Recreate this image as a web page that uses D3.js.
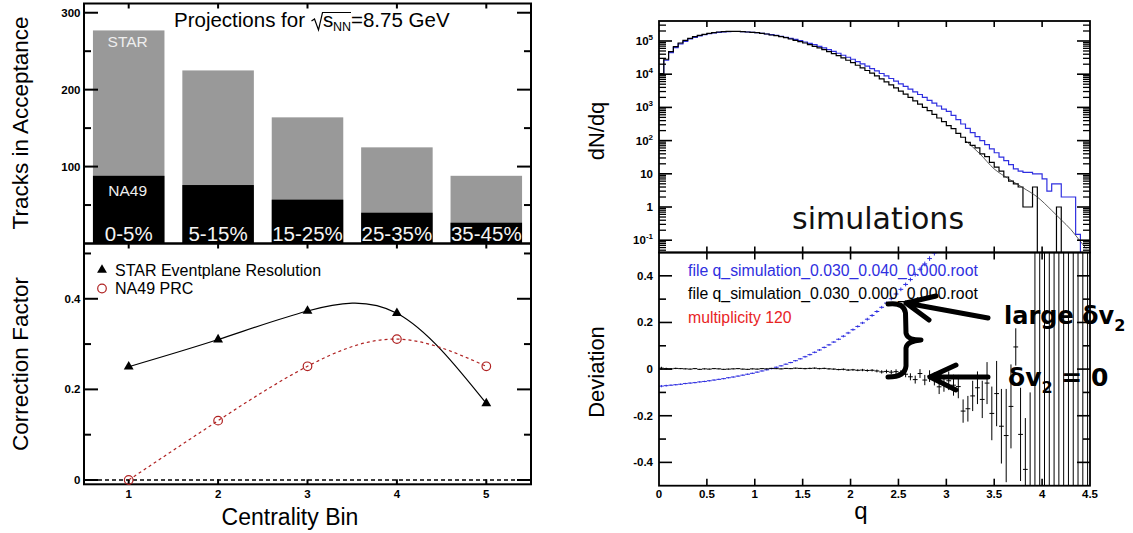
<!DOCTYPE html>
<html>
<head>
<meta charset="utf-8">
<script src="https://cdn.jsdelivr.net/npm/d3@7"></script>
<style>
  body { margin: 0; background: #fff; }
  svg { display: block; font-family: "Liberation Sans", Arial, Helvetica, sans-serif; }
</style>
</head>
<body>
<svg id="chart" width="1133" height="533"></svg>
<script>
// ---------------- Left panel: projections per centrality bin ----------------
const centralityBins   = [1, 2, 3, 4, 5];
const centralityLabels = ["0-5%", "5-15%", "15-25%", "25-35%", "35-45%"];
const starTracks       = [277, 225, 164, 125, 88];
const na49Tracks       = [88, 76, 57, 40, 27];
const starResolution   = [0.250, 0.310, 0.373, 0.368, 0.169];
const na49PRC          = [0.000, 0.131, 0.251, 0.311, 0.251];
const trackMajorTicks  = [100, 200, 300];
const trackMinorTicks  = [50, 150, 250];
const corrMajorTicks   = [0, 0.2, 0.4];
const corrMinorTicks   = [0.1, 0.3, 0.5];

// ---------------- Right panel: q-distribution simulations ----------------
const qBinWidth = 0.05;   // 90 bins from q = 0 to 4.5
// dN/dq, file q_simulation_0.030_0.000_0.000.root (no flow fluctuation)
const countsFlat = [
  10500, 28200, 47900, 67600, 87100, 104700, 120200, 134900, 147900, 158500,
  169800, 177800, 186200, 190500, 195000, 195000, 194000, 190500, 186200, 182000,
  177800, 169800, 162200, 151400, 144500, 134900, 125900, 114800, 104700, 95500,
  87100, 77600, 69200, 61700, 55000, 47900, 41700, 36300, 30900, 26300,
  22400, 18600, 15500, 12900, 10700, 8900, 7240, 5890, 4790, 3890,
  3090, 2510, 2000, 1580, 1260, 1000, 794, 617, 479, 372,
  282, 229, 166, 126, 89, 72, 60, 40, 33, 22,
  16, 12, 8, 6, 5, 4, 1, 1, 4, 0,
  0, 0, 0, 1, 0, 0, 0, 0, 0, 0
];
// dN/dq, file q_simulation_0.030_0.040_0.000.root
const countsFlow = [
  9800, 26300, 44700, 63100, 81300, 97700, 114800, 128800, 141300, 154900,
  166000, 173800, 182000, 186200, 190500, 192800, 192800, 190500, 186200, 182000,
  177800, 169800, 162200, 154900, 147900, 138000, 128800, 120200, 112200, 102300,
  93300, 85100, 77600, 69200, 61700, 55000, 49000, 42700, 37200, 32400,
  28200, 24000, 20400, 17400, 14800, 12600, 10500, 8910, 7410, 6170,
  5130, 4270, 3550, 2950, 2450, 2000, 1620, 1350, 1100, 890,
  760, 575, 427, 316, 234, 174, 132, 100, 76, 56,
  43, 32, 25, 19, 14, 12, 11, 11, 10, 10,
  7, 3, 5, 5, 2, 2, 2, 0.15, 0, 0
];
// expected shape in the tail (thin curve)
const fitQ      = [3.2, 3.35, 3.5, 3.65, 3.8, 3.95, 4.1, 4.2, 4.3, 4.39, 4.46];
const fitCounts = [100, 40, 14, 7.1, 3.8, 2.0, 0.79, 0.41, 0.21, 0.1, 0.056];

// deviation from the reference distribution, per bin
const devFlat = [
  0.004, 0.002, 0.001, 0.003, 0.002, 0.001, 0.000, 0.002, -0.001, 0.001,
  0.000, 0.002, 0.001, -0.001, 0.000, 0.001, 0.002, 0.000, -0.001, 0.001,
  0.000, 0.002, 0.001, 0.003, 0.002, 0.001, 0.003, 0.002, 0.004, 0.003,
  0.002, 0.003, 0.004, 0.002, 0.003, 0.001, 0.000, -0.002, -0.001, -0.004,
  -0.003, -0.005, -0.004, -0.006, -0.005, -0.008, -0.012, -0.010, -0.013, -0.011,
  -0.016, -0.022, -0.033, -0.045, -0.019, -0.047, -0.030, -0.042, -0.076, -0.062,
  -0.050, -0.069, -0.075, -0.180, -0.170, -0.115, -0.080, -0.130, -0.060, -0.190,
  -0.105, -0.245, -0.285, -0.160, 0.095, -0.280, -0.430, -0.700, -1, -1,
  -1, -1, -1, -1, -1, -1, -1, -1, -1, -1
];
const devFlatErr = [
  0.006, 0.004, 0.003, 0.003, 0.002, 0.002, 0.002, 0.002, 0.002, 0.002,
  0.002, 0.002, 0.002, 0.002, 0.002, 0.002, 0.002, 0.002, 0.002, 0.002,
  0.002, 0.002, 0.002, 0.002, 0.002, 0.002, 0.002, 0.002, 0.002, 0.002,
  0.003, 0.003, 0.003, 0.003, 0.003, 0.003, 0.003, 0.003, 0.004, 0.004,
  0.004, 0.004, 0.005, 0.005, 0.005, 0.006, 0.007, 0.008, 0.009, 0.010,
  0.011, 0.013, 0.015, 0.017, 0.019, 0.022, 0.025, 0.028, 0.031, 0.035,
  0.040, 0.045, 0.050, 0.050, 0.055, 0.065, 0.070, 0.080, 0.090, 0.115,
  0.140, 0.160, 0.200, 0.180, 0.080, 0.200, 0.220, 0.600, 2, 2,
  2, 2, 2, 2, 2, 2, 2, 2, 2, 2
];
const devFlow = [
  -0.073, -0.071, -0.069, -0.067, -0.065, -0.062, -0.060, -0.058, -0.055, -0.053,
  -0.050, -0.047, -0.044, -0.041, -0.037, -0.034, -0.030, -0.026, -0.022, -0.018,
  -0.013, -0.008, -0.003, 0.002, 0.008, 0.014, 0.021, 0.028, 0.036, 0.044,
  0.053, 0.062, 0.072, 0.082, 0.093, 0.104, 0.116, 0.128, 0.141, 0.155,
  0.169, 0.183, 0.198, 0.214, 0.230, 0.247, 0.265, 0.283, 0.302, 0.322,
  0.342, 0.363, 0.384, 0.406, 0.428, 0.451, 0.474, 0.498, 0.522
];
const devFlowErr = [
  0.005, 0.004, 0.003, 0.003, 0.003, 0.003, 0.003, 0.003, 0.003, 0.003,
  0.003, 0.003, 0.003, 0.003, 0.003, 0.003, 0.003, 0.003, 0.003, 0.003,
  0.003, 0.003, 0.003, 0.003, 0.003, 0.003, 0.003, 0.003, 0.003, 0.003,
  0.004, 0.004, 0.004, 0.004, 0.004, 0.004, 0.004, 0.004, 0.005, 0.005,
  0.005, 0.005, 0.005, 0.006, 0.006, 0.006, 0.006, 0.007, 0.007, 0.007,
  0.008, 0.008, 0.008, 0.009, 0.009, 0.010, 0.010, 0.011, 0.011
];
const qTicks        = [0, 0.5, 1, 1.5, 2, 2.5, 3, 3.5, 4, 4.5];
const qTickLabels   = ["0", "0.5", "1", "1.5", "2", "2.5", "3", "3.5", "4", "4.5"];
const logMajorTicks = [0.1, 1, 10, 100, 1e3, 1e4, 1e5];
const logTickBase   = ["10", "1", "10", "10", "10", "10", "10"];
const logTickExp    = ["-1", "", "", "2", "3", "4", "5"];
const devMajorTicks = [-0.4, -0.2, 0, 0.2, 0.4];
const devMinorTicks = [-0.3, -0.1, 0.1, 0.3];
const legendFiles   = ["file q_simulation_0.030_0.040_0.000.root",
                       "file q_simulation_0.030_0.000_0.000.root",
                       "multiplicity 120"];

const BLUE = "#2f2fe0", RED_DARK = "#b02323", RED = "#e8241f", GREY = "#999999";
const VERA = "'DejaVu Sans', Verdana, sans-serif";

const svg = d3.select("#chart");

// ---------- helpers ----------
function frameRect(g, x0, y0, x1, y1, w) {
  g.append("rect").attr("x", x0).attr("y", y0).attr("width", x1 - x0).attr("height", y1 - y0)
    .attr("fill", "none").attr("stroke", "#000").attr("stroke-width", w);
}
function yTicks(g, scale, values, x0, x1, len, w) {
  values.forEach(v => {
    const y = scale(v);
    g.append("line").attr("x1", x0).attr("x2", x0 + len).attr("y1", y).attr("y2", y)
      .attr("stroke", "#000").attr("stroke-width", w);
    g.append("line").attr("x1", x1).attr("x2", x1 - len).attr("y1", y).attr("y2", y)
      .attr("stroke", "#000").attr("stroke-width", w);
  });
}
function xTicks(g, scale, values, y, len, w) {
  values.forEach(v => {
    const x = scale(v);
    g.append("line").attr("x1", x).attr("x2", x).attr("y1", y).attr("y2", y + len)
      .attr("stroke", "#000").attr("stroke-width", w);
  });
}
function clip(id, x0, y0, x1, y1) {
  svg.append("clipPath").attr("id", id).append("rect")
    .attr("x", x0).attr("y", y0).attr("width", x1 - x0).attr("height", y1 - y0);
}

// =================== LEFT PANEL ===================
const xC = d3.scaleLinear().domain([0.5, 5.5]).range([84, 531]);
const yTracks = d3.scaleLinear().domain([0, 312]).range([243.5, 3.5]);
const yCorr = d3.scaleLinear().domain([-0.0095, 0.522]).range([484.3, 243.5]);
const L = svg.append("g");

// stacked bars
const barHalf = 0.4;
L.selectAll("rect.star").data(centralityBins).join("rect")
  .attr("x", d => xC(d - barHalf)).attr("width", d => xC(d + barHalf) - xC(d - barHalf))
  .attr("y", (d, i) => yTracks(starTracks[i])).attr("height", (d, i) => yTracks(0) - yTracks(starTracks[i]))
  .attr("fill", GREY);
L.selectAll("rect.na49").data(centralityBins).join("rect")
  .attr("x", d => xC(d - barHalf)).attr("width", d => xC(d + barHalf) - xC(d - barHalf))
  .attr("y", (d, i) => yTracks(na49Tracks[i])).attr("height", (d, i) => yTracks(0) - yTracks(na49Tracks[i]))
  .attr("fill", "#000");
L.selectAll("text.cent").data(centralityBins).join("text")
  .attr("x", d => xC(d)).attr("y", 240.5).attr("text-anchor", "middle")
  .attr("font-size", 20.5).attr("fill", "#f4f4f4").text((d, i) => centralityLabels[i]);
L.append("text").attr("x", xC(1) - 1).attr("y", 47).attr("text-anchor", "middle")
  .attr("font-size", 15.5).attr("fill", "#eeeeee").text("STAR");
L.append("text").attr("x", xC(1) - 1).attr("y", 195.5).attr("text-anchor", "middle")
  .attr("font-size", 15.5).attr("fill", "#eeeeee").text("NA49");

// title with sqrt(s_NN)
L.append("text").attr("x", 174).attr("y", 27).attr("font-size", 20.5).text("Projections for");
L.append("path").attr("d", "M311.5,21 L314.5,19 L318.5,30 L322.5,12.5 L351,12.5")
  .attr("fill", "none").attr("stroke", "#000").attr("stroke-width", 1.2);
L.append("text").attr("x", 323).attr("y", 27).attr("font-size", 20.5).text("s");
L.append("text").attr("x", 333).attr("y", 31).attr("font-size", 12.5).text("NN");
L.append("text").attr("x", 351).attr("y", 27).attr("font-size", 20.5).text("=8.75 GeV");

// top frame & ticks
frameRect(L, 84, 3.5, 531, 243.5, 2);
yTicks(L, yTracks, trackMajorTicks, 84, 531, 14, 2);
yTicks(L, yTracks, trackMinorTicks, 84, 531, 7, 2);
xTicks(L, xC, centralityBins, 3.5, 5, 2);
L.selectAll("text.tl").data(trackMajorTicks).join("text")
  .attr("x", 80.5).attr("y", d => yTracks(d) + 4).attr("text-anchor", "end")
  .attr("font-size", 11.5).attr("font-weight", "bold").text(d => d);

// bottom panel
frameRect(L, 84, 243.5, 531, 484.3, 2);
yTicks(L, yCorr, corrMajorTicks, 84, 531, 14, 2);
yTicks(L, yCorr, corrMinorTicks, 84, 531, 7, 2);
xTicks(L, xC, centralityBins, 243.5, 5, 2);
xTicks(L, xC, centralityBins, 484.3, -5, 2);
L.selectAll("text.cl").data(corrMajorTicks).join("text")
  .attr("x", 80.5).attr("y", d => yCorr(d) + 4).attr("text-anchor", "end")
  .attr("font-size", 11.5).attr("font-weight", "bold").text(d => d);
L.selectAll("text.xl").data(centralityBins).join("text")
  .attr("x", d => xC(d)).attr("y", 497.5).attr("text-anchor", "middle")
  .attr("font-size", 11.5).attr("font-weight", "bold").text(d => d);

// zero reference line
L.append("line").attr("x1", 84).attr("x2", 531).attr("y1", yCorr(0)).attr("y2", yCorr(0))
  .attr("stroke", "#000").attr("stroke-width", 1.6).attr("stroke-dasharray", "4,3");

// correction factor curves
const lineC = d3.line().x(d => xC(d[0])).y(d => yCorr(d[1])).curve(d3.curveNatural);
L.append("path").attr("d", lineC(centralityBins.map((c, i) => [c, starResolution[i]])))
  .attr("fill", "none").attr("stroke", "#000").attr("stroke-width", 1.2);
L.append("path").attr("d", lineC(centralityBins.map((c, i) => [c, na49PRC[i]])))
  .attr("fill", "none").attr("stroke", RED_DARK).attr("stroke-width", 1.2).attr("stroke-dasharray", "3,3");
const tri = d3.symbol().type(d3.symbolTriangle).size(42);
L.selectAll("path.tri").data(centralityBins).join("path")
  .attr("d", tri).attr("transform", (d, i) => `translate(${xC(d)},${yCorr(starResolution[i])})`)
  .attr("fill", "#000");
L.selectAll("circle.prc").data(centralityBins).join("circle")
  .attr("cx", d => xC(d)).attr("cy", (d, i) => yCorr(na49PRC[i])).attr("r", 4.3)
  .attr("fill", "none").attr("stroke", RED_DARK).attr("stroke-width", 1.2);

// legend
L.append("path").attr("d", tri).attr("transform", "translate(102,270)").attr("fill", "#000");
L.append("text").attr("x", 115).attr("y", 275.8).attr("font-size", 16).text("STAR Eventplane Resolution");
L.append("circle").attr("cx", 102).attr("cy", 288.5).attr("r", 4.3)
  .attr("fill", "none").attr("stroke", RED_DARK).attr("stroke-width", 1.2);
L.append("text").attr("x", 115).attr("y", 294.3).attr("font-size", 16).text("NA49 PRC");

// axis titles
L.append("text").attr("transform", "translate(28,123) rotate(-90)").attr("text-anchor", "middle")
  .attr("font-size", 22.5).text("Tracks in Acceptance");
L.append("text").attr("transform", "translate(28,364) rotate(-90)").attr("text-anchor", "middle")
  .attr("font-size", 22.5).text("Correction Factor");
L.append("text").attr("x", 290).attr("y", 525).attr("text-anchor", "middle")
  .attr("font-size", 23).text("Centrality Bin");

// =================== RIGHT PANEL ===================
const xQ = d3.scaleLinear().domain([0, 4.5]).range([659, 1090]);
const yLog = d3.scaleLog().domain([Math.pow(10, -1.37), Math.pow(10, 5.602)]).range([252.5, 21]);
const yDev = d3.scaleLinear().domain([-0.5, 0.5]).range([485.7, 252.5]);
const R = svg.append("g");
clip("clipTop", 659, 21, 1090, 252.5);
clip("clipBot", 659, 252.5, 1090, 485.7);

// histograms (step outline)
const floorCount = Math.pow(10, -3);
function histPoints(counts) {
  const pts = counts.map((c, i) => [i * qBinWidth, Math.max(c, floorCount)]);
  pts.push([counts.length * qBinWidth, Math.max(counts[counts.length - 1], floorCount)]);
  return pts;
}
const histLine = d3.line().x(d => xQ(d[0])).y(d => yLog(d[1])).curve(d3.curveStepAfter);
const topG = R.append("g").attr("clip-path", "url(#clipTop)");
topG.append("path").attr("d", histLine(histPoints(countsFlow)))
  .attr("fill", "none").attr("stroke", BLUE).attr("stroke-width", 1.2);
topG.append("path").attr("d", histLine(histPoints(countsFlat)))
  .attr("fill", "none").attr("stroke", "#000").attr("stroke-width", 1.2);
topG.append("path")
  .attr("d", d3.line().x(d => xQ(d[0])).y(d => yLog(d[1])).curve(d3.curveMonotoneX)(fitQ.map((q, i) => [q, fitCounts[i]])))
  .attr("fill", "none").attr("stroke", "#333").attr("stroke-width", 0.8);

R.append("text").attr("x", 792).attr("y", 229).style("font-family", VERA)
  .attr("font-size", 30).attr("fill", "#111").text("simulations");

// top frame & ticks
frameRect(R, 659, 21, 1090, 252.5, 1.8);
logMajorTicks.forEach(v => {
  yTicks(R, yLog, [v], 659, 1090, 13, 1.6);
  for (let m = 2; m <= 9; m++) {
    const mv = v * m;
    if (yLog(mv) > 21.5) yTicks(R, yLog, [mv], 659, 1090, 7, 1.3);
  }
});
[2, 3, 4, 5, 6, 7, 8, 9].forEach(m => {
  const mv = 0.01 * m;
  if (yLog(mv) < 252) yTicks(R, yLog, [mv], 659, 1090, 7, 1.3);
});
xTicks(R, xQ, qTicks.slice(1, -1), 21, 6, 1.6);
xTicks(R, xQ, qTicks.slice(1, -1), 252.5, -6, 1.6);
logMajorTicks.forEach((v, i) => {
  const t = R.append("text").attr("x", 653).attr("y", yLog(v) + 4).attr("text-anchor", "end")
    .attr("font-size", 11.5).attr("font-weight", "bold");
  t.append("tspan").text(logTickBase[i]);
  if (logTickExp[i]) t.append("tspan").attr("dy", -5).attr("font-size", 8).text(logTickExp[i]);
});

// deviation points
const botG = R.append("g").attr("clip-path", "url(#clipBot)");
function drawDev(values, errors, color) {
  values.forEach((v, i) => {
    const qc = (i + 0.5) * qBinWidth;
    botG.append("line").attr("x1", xQ(qc - qBinWidth / 2)).attr("x2", xQ(qc + qBinWidth / 2))
      .attr("y1", yDev(v)).attr("y2", yDev(v)).attr("stroke", color).attr("stroke-width", 1);
    botG.append("line").attr("x1", xQ(qc)).attr("x2", xQ(qc))
      .attr("y1", yDev(v - errors[i])).attr("y2", yDev(v + errors[i])).attr("stroke", color).attr("stroke-width", 1);
  });
}
drawDev(devFlow, devFlowErr, BLUE);
drawDev(devFlat, devFlatErr, "#000");

frameRect(R, 659, 252.5, 1090, 485.7, 1.8);
yTicks(R, yDev, devMajorTicks, 659, 1090, 13, 1.6);
yTicks(R, yDev, devMinorTicks, 659, 1090, 7, 1.6);
xTicks(R, xQ, qTicks.slice(1, -1), 252.5, 7, 1.6);
xTicks(R, xQ, qTicks.slice(1, -1), 485.7, -7, 1.6);
R.selectAll("text.dl").data(devMajorTicks).join("text")
  .attr("x", 653).attr("y", d => yDev(d) + 4).attr("text-anchor", "end")
  .attr("font-size", 11.5).attr("font-weight", "bold").text(d => d);
R.selectAll("text.ql").data(qTicks).join("text")
  .attr("x", d => xQ(d)).attr("y", 497.5).attr("text-anchor", "middle")
  .attr("font-size", 11.5).attr("font-weight", "bold").text((d, i) => qTickLabels[i]);

// legend texts
[BLUE, "#000", RED].forEach((c, i) => {
  R.append("text").attr("x", 688).attr("y", 276 + i * 23.4).attr("font-size", 15.8)
    .attr("fill", c).text(legendFiles[i]);
});

// axis titles
R.append("text").attr("transform", "translate(604,131) rotate(-90)").attr("text-anchor", "middle")
  .attr("font-size", 22).text("dN/dq");
R.append("text").attr("transform", "translate(604,372) rotate(-90)").attr("text-anchor", "middle")
  .attr("font-size", 22).text("Deviation");
R.append("text").attr("x", 861).attr("y", 519).attr("text-anchor", "middle")
  .attr("font-size", 24).text("q");

// annotations: brace and arrows
const A = R.append("g").attr("fill", "none").attr("stroke", "#000").attr("stroke-width", 5)
  .attr("stroke-linecap", "round").attr("stroke-linejoin", "round");
A.append("path").attr("d", "M888,304 Q904,302 905.5,313 L906,333 Q907,340 921,340 Q907,341 906,348 L906,366 Q905,377 888,377");
A.append("path").attr("d", "M988,318 L906,303 M906,303 L936,296 M906,303 L929,320");
A.append("path").attr("d", "M988,377 L930,377 M930,377 L956,365 M930,377 L956,390");

const ann1 = R.append("text").attr("x", 1004).attr("y", 324).style("font-family", VERA)
  .attr("font-weight", "bold").attr("font-size", 24);
ann1.append("tspan").text("large δv");
ann1.append("tspan").attr("dy", 7).attr("font-size", 16).text("2");
const ann2 = R.append("text").attr("x", 1008).attr("y", 386).style("font-family", VERA)
  .attr("font-weight", "bold").attr("font-size", 25);
ann2.append("tspan").text("δv");
ann2.append("tspan").attr("dy", 7).attr("font-size", 16).text("2");
ann2.append("tspan").attr("dy", -7).text(" = 0");
</script>
</body>
</html>
